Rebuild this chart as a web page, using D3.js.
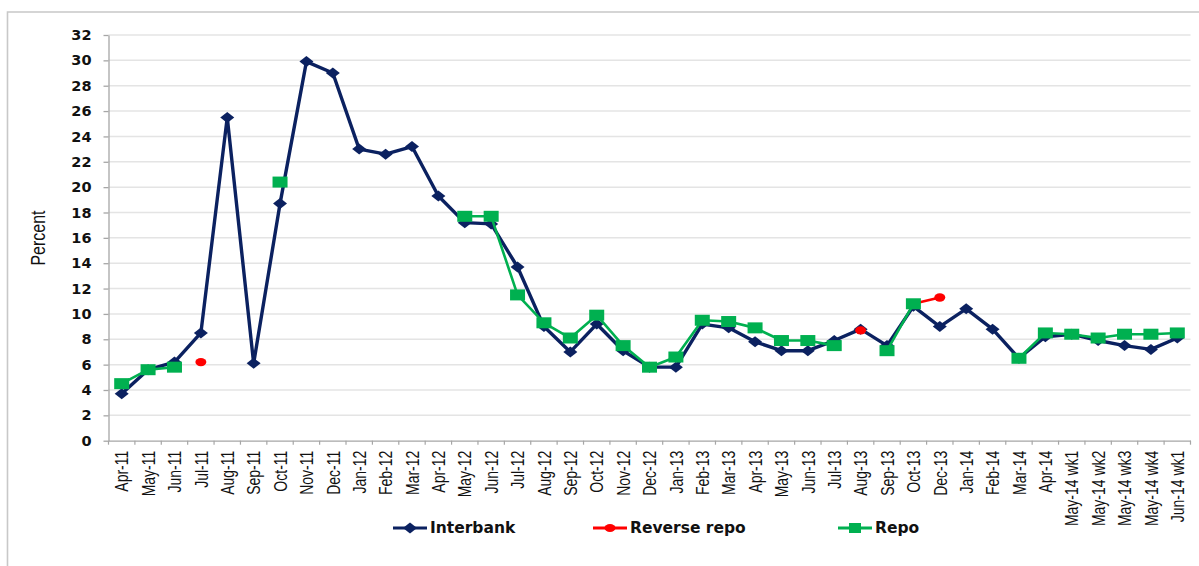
<!DOCTYPE html>
<html>
<head>
<meta charset="utf-8">
<script src="https://cdn.jsdelivr.net/npm/d3@7"></script>
<style>
  html, body { margin: 0; padding: 0; background: #fff; }
  svg { display: block; }
</style>
</head>
<body>
<svg id="chart" width="1199" height="566"></svg>
<script>
const categories = ["Apr-11","May-11","Jun-11","Jul-11","Aug-11","Sep-11","Oct-11","Nov-11","Dec-11",
  "Jan-12","Feb-12","Mar-12","Apr-12","May-12","Jun-12","Jul-12","Aug-12","Sep-12","Oct-12","Nov-12","Dec-12",
  "Jan-13","Feb-13","Mar-13","Apr-13","May-13","Jun-13","Jul-13","Aug-13","Sep-13","Oct-13","Dec-13",
  "Jan-14","Feb-14","Mar-14","Apr-14","May-14 wk1","May-14 wk2","May-14 wk3","May-14 wk4","Jun-14 wk1"];

const interbank = [3.7,5.6,6.2,8.5,25.5,6.1,18.7,29.9,29.0,
  23.0,22.6,23.2,19.3,17.2,17.1,13.7,9.0,7.0,9.2,7.1,5.8,
  5.8,9.2,8.9,7.8,7.1,7.1,7.9,8.8,7.5,10.6,9.0,
  10.4,8.8,6.5,8.2,8.4,7.9,7.5,7.2,8.1];

const reverseRepo = [null,null,null,6.2,null,null,null,null,null,
  null,null,null,null,null,null,null,null,null,null,null,null,
  null,null,null,null,null,null,null,8.7,null,10.8,11.3,
  null,null,null,null,null,null,null,null,null];

const repo = [4.5,5.6,5.8,null,null,null,20.4,null,null,
  null,null,null,null,17.7,17.7,11.5,9.3,8.1,9.9,7.5,5.8,
  6.6,9.5,9.4,8.9,7.9,7.9,7.5,null,7.1,10.8,null,
  null,null,6.5,8.5,8.4,8.1,8.4,8.4,8.5];

const yTicks = [0,2,4,6,8,10,12,14,16,18,20,22,24,26,28,30,32];

const seriesNames = ["Interbank","Reverse repo","Repo"];
const colors = { "Interbank": "#0b2160", "Reverse repo": "#ff0000", "Repo": "#00b050" };

const svg = d3.select("#chart");

// outer frame (left + top)
svg.append("path")
  .attr("d", "M7.5,566 L7.5,12 L1199,12")
  .attr("fill", "none").attr("stroke", "#c8c8c8").attr("stroke-width", 1.6);

const x = d3.scaleBand().domain(categories).range([108.5, 1190.5]);
const y = d3.scaleLinear().domain([0, 32]).range([440.7, 35]);
const cx = c => x(c) + x.bandwidth() / 2;

// gridlines
svg.append("g").selectAll("line").data(yTicks.filter(t => t > 0)).join("line")
  .attr("x1", 108.5).attr("x2", 1190.5)
  .attr("y1", d => y(d)).attr("y2", d => y(d))
  .attr("stroke", "#e4e4e4").attr("stroke-width", 1.5);

// y axis
const yAxis = svg.append("g").attr("transform", "translate(108.5,0)")
  .call(d3.axisLeft(y).tickValues(yTicks).tickSize(5).tickSizeOuter(0).tickPadding(12));
yAxis.select(".domain").attr("stroke", "#a6a6a6").attr("stroke-width", 1.3);
yAxis.selectAll(".tick line").attr("stroke", "#a6a6a6").attr("stroke-width", 1.3);
yAxis.selectAll(".tick text")
  .attr("font-family", "DejaVu Sans").attr("font-weight", "bold").attr("font-size", 14.5)
  .attr("fill", "#111");

// x axis
const xAxis = svg.append("g").attr("transform", "translate(0,440.7)")
  .call(d3.axisBottom(x).tickSize(0).tickSizeOuter(0));
xAxis.select(".domain").attr("stroke", "#a6a6a6").attr("stroke-width", 1.3);
// boundary ticks
const bounds = categories.map(c => x(c)).concat([x(categories[categories.length-1]) + x.bandwidth()]);
xAxis.append("g").selectAll("line").data(bounds).join("line")
  .attr("x1", d => d).attr("x2", d => d).attr("y1", 0).attr("y2", 4)
  .attr("stroke", "#a6a6a6").attr("stroke-width", 1.2);
xAxis.selectAll(".tick text")
  .attr("font-family", "Liberation Sans").attr("font-size", 14).attr("fill", "#111")
  .attr("text-anchor", "end").attr("dominant-baseline", "central")
  .attr("x", 0).attr("y", 0).attr("dy", null)
  .attr("transform", "translate(0,10) rotate(-90) scale(1,1.3)");

// y label
svg.append("text")
  .attr("transform", "translate(37.5,238) rotate(-90) scale(1,1.3)")
  .attr("text-anchor", "middle").attr("dominant-baseline", "central")
  .attr("font-family", "Liberation Sans").attr("font-size", 16).attr("fill", "#111")
  .text("Percent");

// series
const diamond = "M0,-5.5 L7,0 L0,5.5 L-7,0 Z";
function drawSeries(name, values, markerFn, width) {
  const pts = categories.map((c, i) => ({ c, v: values[i] }));
  const line = d3.line().defined(d => d.v !== null).x(d => cx(d.c)).y(d => y(d.v));
  const g = svg.append("g");
  g.append("path").datum(pts).attr("d", line)
    .attr("fill", "none").attr("stroke", colors[name]).attr("stroke-width", width)
    .attr("stroke-linejoin", "round");
  markerFn(g.selectAll(".m").data(pts.filter(d => d.v !== null)).join("g")
    .attr("transform", d => `translate(${cx(d.c)},${y(d.v)})`));
}

drawSeries("Interbank", interbank, sel => sel.append("path").attr("d", diamond).attr("fill", colors["Interbank"]), 3.4);
drawSeries("Reverse repo", reverseRepo, sel => sel.append("ellipse").attr("rx", 5.5).attr("ry", 4.2).attr("fill", colors["Reverse repo"]), 2.5);
drawSeries("Repo", repo, sel => sel.append("rect").attr("x", -7.5).attr("y", -5.5).attr("width", 15).attr("height", 11).attr("fill", colors["Repo"]), 2.6);

// legend
const legendItems = [
  { name: "Interbank", x0: 393, marker: g => g.append("path").attr("d", diamond).attr("fill", colors["Interbank"]) },
  { name: "Reverse repo", x0: 593, marker: g => g.append("ellipse").attr("rx", 5.5).attr("ry", 4).attr("fill", colors["Reverse repo"]) },
  { name: "Repo", x0: 838, marker: g => g.append("rect").attr("x", -6).attr("y", -5).attr("width", 12).attr("height", 10).attr("fill", colors["Repo"]) }
];
const ly = 528;
legendItems.forEach(it => {
  const g = svg.append("g");
  g.append("line").attr("x1", it.x0).attr("x2", it.x0 + 34).attr("y1", ly).attr("y2", ly)
    .attr("stroke", colors[it.name]).attr("stroke-width", 3);
  it.marker(g.append("g").attr("transform", `translate(${it.x0 + 17},${ly})`));
  g.append("text").attr("x", it.x0 + 37).attr("y", ly).attr("dominant-baseline", "central")
    .attr("font-family", "DejaVu Sans").attr("font-weight", "bold").attr("font-size", 15.5)
    .attr("fill", "#111").text(it.name);
});
</script>
</body>
</html>
